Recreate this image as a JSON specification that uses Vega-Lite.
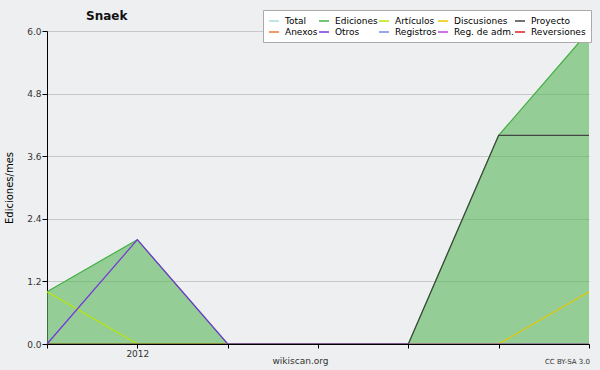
{
  "$schema": "https://vega.github.io/schema/vega-lite/v6.json",
  "width": 542,
  "height": 313,
  "autosize": {"type": "none"},
  "padding": {"left": 47, "top": 31, "right": 11, "bottom": 26},
  "background": "#eeeff1",
  "config": {"view": {"stroke": null, "fill": "#eeeff1"}, "font": "DejaVu Sans"},
  "title": {"text": "Snaek", "anchor": "start", "frame": "group", "dx": 39, "dy": 21, "offset": 8, "fontSize": 12, "fontWeight": "bold", "color": "#111111", "font": "DejaVu Sans"},
  "data": {
    "values": [
      {"i": 0, "serie": "Ediciones", "v": 1},
      {"i": 1, "serie": "Ediciones", "v": 2},
      {"i": 2, "serie": "Ediciones", "v": 0},
      {"i": 3, "serie": "Ediciones", "v": 0},
      {"i": 4, "serie": "Ediciones", "v": 0},
      {"i": 5, "serie": "Ediciones", "v": 4},
      {"i": 6, "serie": "Ediciones", "v": 6},
      {"i": 0, "serie": "Artículos", "v": 1},
      {"i": 1, "serie": "Artículos", "v": 0},
      {"i": 2, "serie": "Artículos", "v": 0},
      {"i": 3, "serie": "Artículos", "v": 0},
      {"i": 4, "serie": "Artículos", "v": 0},
      {"i": 5, "serie": "Artículos", "v": 0},
      {"i": 6, "serie": "Artículos", "v": 0},
      {"i": 0, "serie": "Discusiones", "v": 0},
      {"i": 1, "serie": "Discusiones", "v": 0},
      {"i": 2, "serie": "Discusiones", "v": 0},
      {"i": 3, "serie": "Discusiones", "v": 0},
      {"i": 4, "serie": "Discusiones", "v": 0},
      {"i": 5, "serie": "Discusiones", "v": 0},
      {"i": 6, "serie": "Discusiones", "v": 1},
      {"i": 0, "serie": "Proyecto", "v": 0},
      {"i": 1, "serie": "Proyecto", "v": 0},
      {"i": 2, "serie": "Proyecto", "v": 0},
      {"i": 3, "serie": "Proyecto", "v": 0},
      {"i": 4, "serie": "Proyecto", "v": 0},
      {"i": 5, "serie": "Proyecto", "v": 4},
      {"i": 6, "serie": "Proyecto", "v": 4},
      {"i": 0, "serie": "Otros", "v": 0},
      {"i": 1, "serie": "Otros", "v": 2},
      {"i": 2, "serie": "Otros", "v": 0},
      {"i": 3, "serie": "Otros", "v": 0},
      {"i": 4, "serie": "Otros", "v": 0},
      {"i": 5, "serie": "Otros", "v": 0},
      {"i": 6, "serie": "Otros", "v": 0}
    ]
  },
  "layer": [
    {
      "transform": [{"filter": "datum.serie == 'Ediciones'"}],
      "mark": {"type": "area", "color": "#5cb85c", "opacity": 0.62},
      "encoding": {
        "x": {
          "field": "i", "type": "quantitative",
          "scale": {"domain": [0, 6], "nice": false, "zero": false},
          "axis": {
            "values": [0, 1, 2, 3, 4, 5, 6],
            "labelExpr": "datum.value == 1 ? '2012' : ''",
            "grid": false, "tickSize": 4, "domainColor": "#000000", "tickColor": "#000000",
            "labelFontSize": 9, "labelColor": "#333333", "labelPadding": 1, "zindex": 1,
            "title": "wikiscan.org", "titleFontSize": 9, "titleFontWeight": "normal", "titleColor": "#333333",
            "titleX": 253, "titleY": 19, "titleBaseline": "alphabetic", "titleAlign": "center"
          }
        },
        "y": {
          "field": "v", "type": "quantitative",
          "scale": {"domain": [0, 6], "nice": false},
          "axis": {
            "values": [0, 0.3, 0.6, 0.9, 1.2, 1.5, 1.8, 2.1, 2.4, 2.7, 3, 3.3, 3.6, 3.9, 4.2, 4.5, 4.8, 5.1, 5.4, 5.7, 6],
            "format": ".1f",
            "labelExpr": "abs(datum.value/1.2 - round(datum.value/1.2)) < 0.01 ? datum.label : ''",
            "tickSize": {"condition": {"test": "abs(datum.value/1.2 - round(datum.value/1.2)) < 0.01", "value": 5}, "value": 3},
            "gridOpacity": {"condition": {"test": "abs(datum.value/1.2 - round(datum.value/1.2)) < 0.01", "value": 1}, "value": 0},
            "gridColor": "#c8c8c8", "domainColor": "#000000", "tickColor": "#000000",
            "labelFontSize": 9, "labelColor": "#333333", "labelPadding": 1,
            "title": "Ediciones/mes", "titleFontSize": 10, "titleFontWeight": "normal", "titleColor": "#000000",
            "titleX": -33, "titleBaseline": "bottom"
          }
        }
      }
    },
    {
      "mark": {"type": "line", "strokeWidth": 1.2},
      "encoding": {
        "x": {"field": "i", "type": "quantitative"},
        "y": {"field": "v", "type": "quantitative"},
        "color": {
          "field": "serie", "type": "nominal",
          "scale": {
            "domain": ["Total", "Ediciones", "Artículos", "Discusiones", "Proyecto", "Anexos", "Otros", "Registros", "Reg. de adm.", "Reversiones"],
            "range": ["#aadddd", "#44b044", "#bbe600", "#e8c800", "#444444", "#ee7733", "#7733dd", "#7788ee", "#bb44dd", "#dd2222"]
          },
          "legend": {
            "orient": "none", "legendX": 216, "legendY": -21,
            "direction": "horizontal", "columns": 5, "title": null,
            "symbolType": "stroke", "symbolSize": 100, "symbolStrokeWidth": 1.5,
            "labelFontSize": 9, "labelColor": "#000000",
            "strokeColor": "#aaaaaa", "fillColor": "#ffffff", "padding": 5,
            "columnPadding": -2, "rowPadding": -2, "labelOffset": 5, "gridAlign": "each", "labelLimit": 120
          }
        }
      }
    },
    {
      "data": {"values": [{"note": "CC BY-SA 3.0"}]},
      "mark": {"type": "text", "align": "right", "baseline": "alphabetic", "dx": 1, "dy": 20, "fontSize": 7, "color": "#333333"},
      "encoding": {
        "x": {"datum": 6, "type": "quantitative"},
        "y": {"datum": 0, "type": "quantitative"},
        "text": {"field": "note"}
      }
    }
  ]
}
